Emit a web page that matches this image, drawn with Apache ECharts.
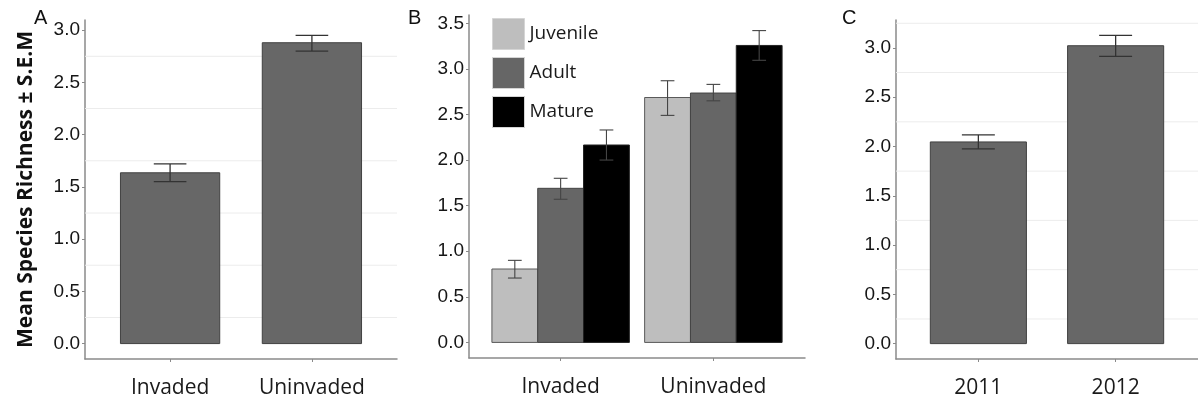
<!DOCTYPE html>
<html>
<head>
<meta charset="utf-8">
<script src="https://cdn.jsdelivr.net/npm/echarts@6/dist/echarts.min.js"></script>
<style>
  html, body { margin: 0; padding: 0; background: #fff; }
  #chart { width: 1198px; height: 401px; }
</style>
</head>
<body>
<div id="chart"></div>
<script>
// panel A: invasion status
const statusCats = ['Invaded', 'Uninvaded'];
const meanA = [1.635, 2.88];
const lowA = [1.55, 2.80];
const highA = [1.72, 2.95];

// panel B: stage within invasion status
const stages = ['Juvenile', 'Adult', 'Mature'];
const juvMean = [0.805, 2.686];
const juvLow = [0.706, 2.49];
const juvHigh = [0.90, 2.87];
const adultMean = [1.69, 2.735];
const adultLow = [1.57, 2.65];
const adultHigh = [1.80, 2.83];
const matureMean = [2.165, 3.257];
const matureLow = [2.0, 3.094];
const matureHigh = [2.33, 3.42];

// panel C: year
const years = ['2011', '2012'];
const meanC = [2.046, 3.022];
const lowC = [1.975, 2.914];
const highC = [2.117, 3.127];

// tick labels and faint grid lines
const yTicksAC = [0, 0.5, 1.0, 1.5, 2.0, 2.5, 3.0];
const yTicksB = [0, 0.5, 1.0, 1.5, 2.0, 2.5, 3.0, 3.5];
const gridA = [0.25, 0.75, 1.25, 1.75, 2.25, 2.75];
const gridC = [0.25, 0.75, 1.25, 1.75, 2.25, 2.75, 3.25];
const xPos = [1, 2];

const tickFont = 'Liberation Sans';
const textFont = 'Open Sans';

function pts(means) {
    return xPos.map((x, i) => [x, means[i]]);
}
function errPts(lo, hi) {
    return xPos.map((x, i) => [x, lo[i], hi[i]]);
}

function barRenderer(width, offset, fill, stroke) {
    return (params, api) => {
        const x = api.value(0) + offset;
        const top = api.coord([x - width / 2, api.value(1)]);
        const base = api.coord([x + width / 2, 0]);
        return {
            type: 'rect',
            shape: { x: top[0], y: top[1], width: base[0] - top[0], height: base[1] - top[1] },
            style: { fill: fill, stroke: stroke, lineWidth: 1 }
        };
    };
}

function errRenderer(cap, offset, color, lw) {
    return (params, api) => {
        const x = api.value(0) + offset;
        const lo = api.coord([x, api.value(1)]);
        const hi = api.coord([x, api.value(2)]);
        const half = api.size([cap / 2, 0])[0];
        const st = { stroke: color, lineWidth: lw };
        return {
            type: 'group',
            children: [
                { type: 'line', shape: { x1: lo[0], y1: lo[1], x2: hi[0], y2: hi[1] }, style: st },
                { type: 'line', shape: { x1: lo[0] - half, y1: lo[1], x2: lo[0] + half, y2: lo[1] }, style: st },
                { type: 'line', shape: { x1: hi[0] - half, y1: hi[1], x2: hi[0] + half, y2: hi[1] }, style: st }
            ]
        };
    };
}

function gridRenderer(params, api) {
    const a = api.coord([0.4, api.value(0)]);
    const b = api.coord([2.6, api.value(0)]);
    return {
        type: 'line',
        shape: { x1: a[0], y1: a[1], x2: b[0], y2: b[1] },
        style: { stroke: '#ececec', lineWidth: 1 }
    };
}

function xAxisFor(idx, cats) {
    return {
        type: 'value',
        gridIndex: idx,
        min: 0.4,
        max: 2.6,
        splitLine: { show: false },
        axisLine: { show: true, onZero: false, lineStyle: { color: '#8a8a8a', width: 1.5 } },
        axisTick: { show: true, customValues: xPos, length: 3, lineStyle: { color: '#8a8a8a' } },
        axisLabel: {
            customValues: xPos,
            formatter: v => cats[Math.round(v) - 1],
            margin: 19,
            color: '#1a1a1a',
            fontFamily: textFont,
            fontSize: 21
        }
    };
}

function yAxisFor(idx, min, max, ticks) {
    return {
        type: 'value',
        gridIndex: idx,
        min: min,
        max: max,
        splitLine: { show: false },
        axisLine: { show: true, lineStyle: { color: '#8a8a8a', width: 1.5 } },
        axisTick: { show: true, customValues: ticks, length: 3, lineStyle: { color: '#8a8a8a' } },
        axisLabel: {
            customValues: ticks,
            formatter: v => v.toFixed(1),
            margin: 5,
            color: '#151515',
            fontFamily: tickFont,
            fontSize: 19
        }
    };
}

const yA = yAxisFor(0, -0.1475, 3.0975, yTicksAC);
yA.name = 'Mean Species Richness ± S.E.M';
yA.nameLocation = 'middle';
yA.nameRotate = 90;
yA.nameGap = 48;
yA.nameTextStyle = { fontFamily: textFont, fontWeight: 'bold', fontSize: 21, color: '#111' };

const panelTitle = (t, left) => ({
    text: t, left: left, top: 8, padding: 0,
    textStyle: { fontFamily: tickFont, fontWeight: 'normal', fontSize: 20, color: '#111' }
});

const stageFill = ['#bebebe', '#666666', '#000000'];
const stageStroke = ['#5a5a5a', '#444444', '#222222'];
const stageMeans = [juvMean, adultMean, matureMean];
const stageLow = [juvLow, adultLow, matureLow];
const stageHigh = [juvHigh, adultHigh, matureHigh];
const stageOffset = [-0.3, 0, 0.3];

const series = [
    // panel A
    { type: 'custom', xAxisIndex: 0, yAxisIndex: 0, silent: true, data: gridA.map(v => [v]), renderItem: gridRenderer, encode: { y: 0 } },
    { type: 'custom', name: 'statusBars', xAxisIndex: 0, yAxisIndex: 0, data: pts(meanA), renderItem: barRenderer(0.7, 0, '#676767', '#404040'), encode: { x: 0, y: 1 } },
    { type: 'custom', xAxisIndex: 0, yAxisIndex: 0, data: errPts(lowA, highA), renderItem: errRenderer(0.23, 0, '#333', 1.3), encode: { x: 0, y: [1, 2] } },
    // panel C
    { type: 'custom', xAxisIndex: 2, yAxisIndex: 2, silent: true, data: gridC.map(v => [v]), renderItem: gridRenderer, encode: { y: 0 } },
    { type: 'custom', name: 'yearBars', xAxisIndex: 2, yAxisIndex: 2, data: pts(meanC), renderItem: barRenderer(0.7, 0, '#676767', '#404040'), encode: { x: 0, y: 1 } },
    { type: 'custom', xAxisIndex: 2, yAxisIndex: 2, data: errPts(lowC, highC), renderItem: errRenderer(0.24, 0, '#333', 1.3), encode: { x: 0, y: [1, 2] } }
];

// panel B
stages.forEach((s, i) => {
    series.push({
        type: 'custom',
        name: s,
        xAxisIndex: 1,
        yAxisIndex: 1,
        itemStyle: { color: stageFill[i] },
        data: pts(stageMeans[i]),
        renderItem: barRenderer(0.3, stageOffset[i], stageFill[i], stageStroke[i]),
        encode: { x: 0, y: 1 }
    });
});
stages.forEach((s, i) => {
    series.push({
        type: 'custom',
        xAxisIndex: 1,
        yAxisIndex: 1,
        z: 3,
        data: errPts(stageLow[i], stageHigh[i]),
        renderItem: errRenderer(0.09, stageOffset[i], '#444', 1.1),
        encode: { x: 0, y: [1, 2] }
    });
});

const chart = echarts.init(document.getElementById('chart'));
chart.setOption({
    animation: false,
    backgroundColor: '#fff',
    title: [panelTitle('A', 34), panelTitle('B', 408), panelTitle('C', 842)],
    legend: {
        data: stages,
        orient: 'vertical',
        left: 492,
        top: 18,
        padding: 0,
        icon: 'rect',
        itemWidth: 32,
        itemHeight: 31,
        itemGap: 7,
        itemStyle: { borderColor: '#d5d5d5', borderWidth: 1 },
        textStyle: { fontFamily: textFont, fontSize: 19, color: '#1a1a1a' },
        selectedMode: false
    },
    grid: [
        { left: 85, top: 20, width: 312, height: 339 },
        { left: 469, top: 15, width: 336, height: 343 },
        { left: 896, top: 20, width: 308, height: 339 }
    ],
    xAxis: [xAxisFor(0, statusCats), xAxisFor(1, statusCats), xAxisFor(2, years)],
    yAxis: [
        yA,
        yAxisFor(1, -0.171, 3.591, yTicksB),
        yAxisFor(2, -0.156, 3.283, yTicksAC)
    ],
    series: series
});
</script>
</body>
</html>
